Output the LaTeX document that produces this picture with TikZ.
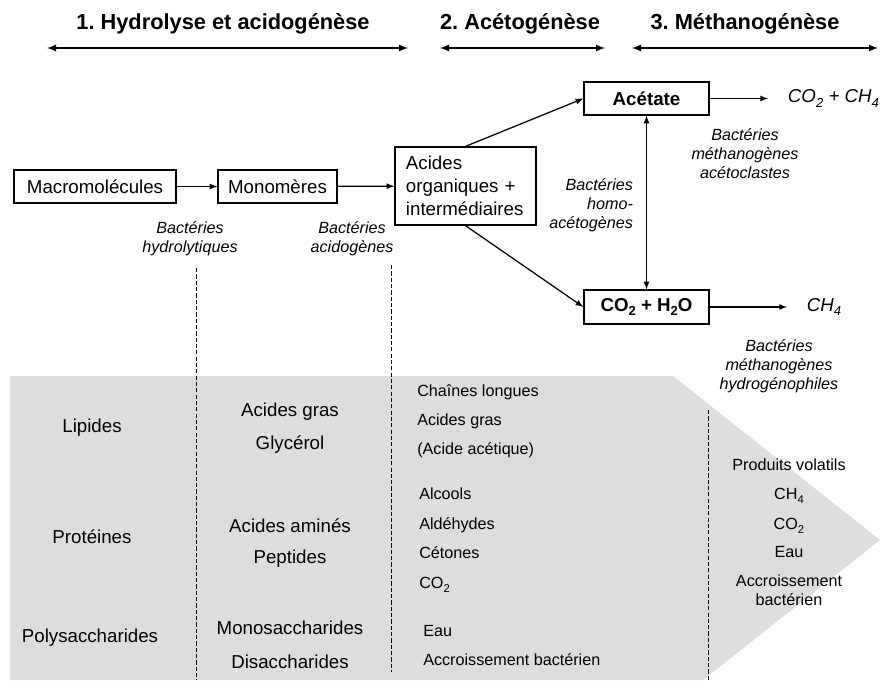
\documentclass[tikz,border=0pt]{standalone}
\usepackage{fontspec}
\setmainfont{Liberation Sans}
\usetikzlibrary{arrows}
\definecolor{greyzone}{HTML}{DDDDDD}
\frenchspacing
\newcommand\idx[1]{\raisebox{-0.45ex}{\scalebox{0.7}{#1}}}

\begin{document}
\begin{tikzpicture}[x=0.025cm,y=-0.025cm,>=latex,
  box/.style={draw,line width=0.9pt,inner sep=0pt},
  txt/.style={font=\fontsize{13.3}{16.4}\selectfont},
  small/.style={font=\fontsize{11.5}{13.6}\selectfont,text height=8.6pt,text depth=2.6pt},
  bact/.style={font=\fontsize{11.5}{13.6}\selectfont\itshape,align=center},
  phase/.style={font=\fontsize{15.5}{18}\selectfont\bfseries,text height=11.5pt,text depth=3.5pt},
  flow/.style={->,line width=0.9pt},
  sep/.style={line width=0.6pt,dash pattern=on 3pt off 1.5pt}]
\useasboundingbox (0,0) rectangle (880,680);

\fill[greyzone] (10,376) -- (673,376) -- (880,540) -- (703,680) -- (10,680) -- cycle;

\def \arrowy {48}
\node[phase] (ph1) at (223,24) {1. Hydrolyse et acidogénèse};
\node[phase] (ph2) at (520,24) {2. Acétogénèse};
\node[phase] (ph3) at (745,24) {3. Méthanogénèse};
\coordinate (ph1a) at (47,\arrowy);  \coordinate (ph1b) at (408,\arrowy);
\coordinate (ph2a) at (440,\arrowy); \coordinate (ph2b) at (605,\arrowy);
\coordinate (ph3a) at (632,\arrowy); \coordinate (ph3b) at (878,\arrowy);
\foreach \s in {1,2,3}
  \draw[<->,line width=1.2pt] (ph\s a) -- (ph\s b);

\node[box,txt,minimum width=4.05cm,minimum height=0.825cm] (macro) at (95,186.5) {Macromolécules};
\node[box,txt,minimum width=2.975cm,minimum height=0.825cm] (mono) at (277.5,186.5) {Monomères};
\node[box,txt,align=left,text width=2.975cm,inner xsep=0.275cm,minimum height=1.95cm] (acides) at (465.5,186)
  {Acides\\organiques +\\intermédiaires};
\node[box,txt,font=\fontsize{13.3}{16}\selectfont\bfseries,minimum width=3.125cm,minimum height=0.825cm] (acetate) at (646.5,98.5) {Acétate};
\node[box,txt,font=\fontsize{13.3}{16}\selectfont\bfseries,minimum width=3.125cm,minimum height=0.85cm] (co2) at (646.5,307)
  {CO\idx{2} + H\idx{2}O};

\draw[flow] (macro) -- (mono);
\draw[flow] (mono) -- (acides);
\draw[flow] (acides.north) -- (acetate.west);
\draw[flow] (acides.south) -- (co2.west);
\draw[<->,line width=0.9pt] (acetate) -- (co2);

\coordinate (out1) at (768,98.5);
\coordinate (out2) at (787,307);
\draw[flow] (acetate) -- (out1);
\draw[flow] (co2) -- (out2);
\node[txt,font=\fontsize{13.3}{16}\selectfont\itshape,anchor=west] (gas1) at (783,98.5) {CO\idx{2} + CH\idx{4}};
\node[txt,font=\fontsize{13.3}{16}\selectfont\itshape,anchor=west] (gas2) at (802,307) {CH\idx{4}};

\node[bact] (hydro) at (190,239) {Bactéries\\hydrolytiques};
\node[bact] (acido) at (352,239) {Bactéries\\acidogènes};
\node[bact,align=right,anchor=east] (homo) at (638,205) {Bactéries\\homo-\\acétogènes};
\node[bact] (aceto) at (745,153.5) {Bactéries\\méthanogènes\\acétoclastes};
\node[bact] (hydrog) at (779,366.5) {Bactéries\\méthanogènes\\hydrogénophiles};

\coordinate (s1a) at (196,268); \coordinate (s1b) at (196,680);
\coordinate (s2a) at (391,265); \coordinate (s2b) at (391,672);
\coordinate (s3a) at (708,410); \coordinate (s3b) at (708,680);
\foreach \s in {1,2,3}
  \draw[sep] (s\s a) -- (s\s b);

\node[txt] (lip) at (92,428) {Lipides};
\node[txt] (prot) at (92,537) {Protéines};
\node[txt] (poly) at (90,638) {Polysaccharides};

\foreach \t/\y in {Acides gras/412,Glycérol/445,Acides aminés/526,Peptides/559,Monosaccharides/628,Disaccharides/662}
  \node[txt] (mon\y) at (290,\y) {\t};

\foreach \t/\x/\y in {Chaînes longues/417/392,Acides gras/417/421,(Acide acétique)/417/450,
  Alcools/419/495,Aldéhydes/419/525,Cétones/419/554,CO\idx{2}/419/584,
  Eau/423/632,Accroissement bactérien/423/661}
  \node[small,anchor=west,inner xsep=0pt] (int\y) at (\x,\y) {\t};

\foreach \t/\y in {Produits volatils/466,CH\idx{4}/495,CO\idx{2}/525,Eau/553,Accroissement/582,bactérien/601}
  \node[small] (fin\y) at (789,\y) {\t};
\end{tikzpicture}
\end{document}
